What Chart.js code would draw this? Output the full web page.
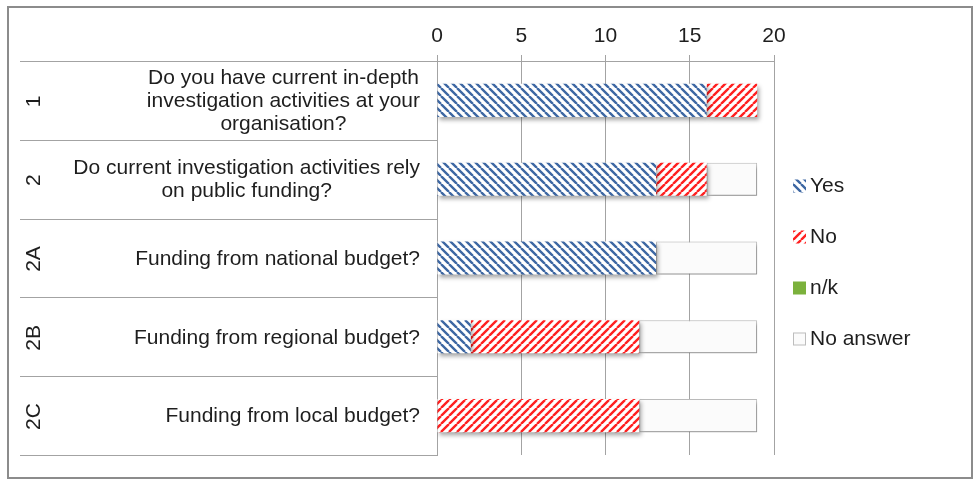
<!DOCTYPE html>
<html>
<head>
<meta charset="utf-8">
<script src="https://cdn.jsdelivr.net/npm/chart.js@4/dist/chart.umd.min.js"></script>
<style>
    body { margin: 0; background: #fff; }
    #moldura { position: absolute; left: 7px; top: 6px; width: 962px; height: 469px; border: 2px solid #8c8c8c; background: #fff; }
    canvas { display: block; }
</style>
</head>
<body>
<div id="moldura"><canvas id="grafico" width="962" height="469"></canvas></div>
<script>
const codes = ['1', '2', '2A', '2B', '2C'];
const questions = [
    ['Do you have current in-depth', 'investigation activities at your', 'organisation?'],
    ['Do current investigation activities rely', 'on public funding?'],
    ['Funding from national budget?'],
    ['Funding from regional budget?'],
    ['Funding from local budget?']
];
const yes = [16, 13, 13, 2, 0];
const no = [3, 3, 0, 10, 12];
const notKnown = [0, 0, 0, 0, 0];
const noAnswer = [0, 3, 6, 7, 7];
const xTicks = [0, 5, 10, 15, 20];

const fonte = '"Liberation Sans", Arial, sans-serif';
const corTexto = '#1e1e1e';
const corLinha = '#a3a3a3';

// diagonal stripes: '\' for yes, '/' for no
function listras(cor, sentido) {
    const s = 8;
    const c = document.createElement('canvas');
    c.width = s; c.height = s;
    const g = c.getContext('2d');
    g.fillStyle = '#fff';
    g.fillRect(0, 0, s, s);
    g.strokeStyle = cor;
    g.lineWidth = 2.4;
    g.beginPath();
    for (let k = -s; k <= s; k += s) {
        if (sentido === '\\') { g.moveTo(k, 0); g.lineTo(k + s, s); }
        else { g.moveTo(k, s); g.lineTo(k + s, 0); }
    }
    g.stroke();
    return g.createPattern(c, 'repeat');
}

// soft drop shadow under the bars
const sombra = {
    id: 'sombra',
    beforeDatasetsDraw(chart) {
        const ctx = chart.ctx;
        ctx.save();
        ctx.shadowColor = 'rgba(0,0,0,0.35)';
        ctx.shadowBlur = 4;
        ctx.shadowOffsetX = 2;
        ctx.shadowOffsetY = 3;
    },
    afterDatasetsDraw(chart) {
        chart.ctx.restore();
    }
};

// row separators, question texts, rotated codes and the legend
const rotulos = {
    id: 'rotulos',
    afterDraw(chart) {
        const ctx = chart.ctx;
        const y = chart.scales.y;
        const area = chart.chartArea;
        const meio = (y.getPixelForValue(1) - y.getPixelForValue(0)) / 2;
        const inicio = chart.options.layout.padding.left;

        ctx.save();
        ctx.strokeStyle = corLinha;
        ctx.lineWidth = 1;
        for (let i = 0; i <= codes.length; i++) {
            const py = Math.round(y.getPixelForValue(i) - meio) + 0.5;
            ctx.beginPath();
            ctx.moveTo(inicio, py);
            ctx.lineTo(area.left, py);
            ctx.stroke();
        }

        ctx.font = '21px ' + fonte;
        ctx.fillStyle = corTexto;
        ctx.textBaseline = 'middle';
        ctx.textAlign = 'center';
        for (let i = 0; i < codes.length; i++) {
            const cy = y.getPixelForValue(i) + 1;
            const linhas = questions[i];
            const largura = Math.max(...linhas.map(l => ctx.measureText(l).width));
            const cx = area.left - 17 - largura / 2;
            const alt = 23;
            linhas.forEach((l, j) => {
                ctx.fillText(l, cx, cy - (linhas.length - 1) * alt / 2 + j * alt);
            });

            ctx.save();
            ctx.translate(25, cy);
            ctx.rotate(-Math.PI / 2);
            ctx.fillText(codes[i], 0, 0);
            ctx.restore();
        }

        // legend
        const passo = 51;
        const base = (area.top + area.bottom) / 2 + 4 - passo * (chart.data.datasets.length - 1) / 2;
        ctx.textAlign = 'left';
        chart.data.datasets.forEach((ds, i) => {
            const ly = base + i * passo;
            ctx.fillStyle = ds.backgroundColor;
            ctx.fillRect(784, ly - 6, 13, 13);
            if (ds.borderWidth) {
                ctx.strokeStyle = ds.borderColor;
                ctx.strokeRect(784.5, ly - 5.5, 12, 12);
            }
            ctx.fillStyle = corTexto;
            ctx.fillText(ds.label, 801, ly + 1);
        });
        ctx.restore();
    }
};

function criarGrafico() {
    Chart.defaults.font.family = fonte;
    Chart.defaults.font.size = 21;
    Chart.defaults.color = corTexto;

    const contexto = document.getElementById('grafico').getContext('2d');
    new Chart(contexto, {
        type: 'bar',
        data: {
            labels: codes,
            datasets: [
                { label: 'Yes', data: yes, backgroundColor: listras('#3d67a3', '\\') },
                { label: 'No', data: no, backgroundColor: listras('#ff2020', '/') },
                { label: 'n/k', data: notKnown, backgroundColor: '#7bb13c' },
                { label: 'No answer', data: noAnswer, backgroundColor: '#fbfbfb', borderColor: '#bdbdbd', borderWidth: 1, borderSkipped: false }
            ]
        },
        options: {
            indexAxis: 'y',
            responsive: false,
            animation: false,
            devicePixelRatio: 1,
            layout: { padding: { left: 11, top: 0, right: 197, bottom: 22 } },
            datasets: { bar: { barPercentage: 0.42, categoryPercentage: 1 } },
            scales: {
                x: {
                    position: 'top',
                    stacked: true,
                    min: 0,
                    max: 20,
                    afterBuildTicks(scale) { scale.ticks = xTicks.map(v => ({ value: v })); },
                    afterFit(scale) { scale.height = 53; },
                    ticks: { padding: 6, color: corTexto },
                    grid: { color: corLinha, tickLength: 6 },
                    border: { color: corLinha }
                },
                y: {
                    stacked: true,
                    afterFit(scale) { scale.width = 417; },
                    ticks: { display: false },
                    grid: { display: false },
                    border: { color: corLinha }
                }
            },
            plugins: {
                legend: { display: false },
                tooltip: { enabled: false }
            }
        },
        plugins: [sombra, rotulos]
    });
}

criarGrafico();
</script>
</body>
</html>
